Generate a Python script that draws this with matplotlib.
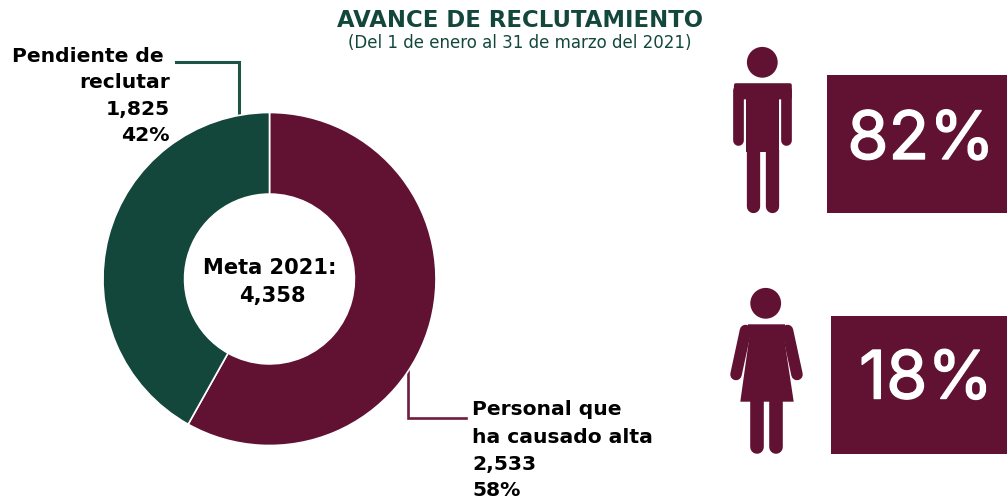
import matplotlib
matplotlib.use("Agg")
import matplotlib.pyplot as plt
import matplotlib.patheffects as pe
from matplotlib.patches import Circle, Polygon, Rectangle, FancyBboxPatch

plt.rcParams["font.family"] = ["DejaVu Sans"]

MAROON = "#611232"
GREEN = "#13473c"

values = [2533, 1825]
colors = [MAROON, GREEN]
meta = 4358
title = "AVANCE DE RECLUTAMIENTO"
subtitle = "(Del 1 de enero al 31 de marzo del 2021)"
label_alta = ["Personal que", "ha causado alta", "2,533", "58%"]
label_pend = ["Pendiente de", "reclutar", "1,825", "42%"]
share_men = "82%"
share_women = "18%"

W, H = 1007, 502
fig = plt.figure(figsize=(W / 100, H / 100), dpi=100)

# overlay in pixel coordinates for the text, leaders and icons
ax = fig.add_axes([0, 0, 1, 1])
ax.set_xlim(0, W)
ax.set_ylim(H - 1, -1)
ax.axis("off")

# donut
cx, cy, R = 269.5, 280, 166.5
pie_ax = fig.add_axes([(cx - R) / W, 1 - (cy + R) / H, 2 * R / W, 2 * R / H])
pie_ax.pie(values, colors=colors, startangle=90, counterclock=False, radius=1,
           wedgeprops=dict(width=0.49, edgecolor="white", linewidth=1.2))
pie_ax.set_xlim(-1, 1)
pie_ax.set_ylim(-1, 1)

ax.text(520, 19.5, title, color=GREEN, fontsize=16.4, fontweight="bold", ha="center", va="center")
ax.text(520, 42, subtitle, color=GREEN, fontsize=12, ha="center", va="center")

ax.text(270, 267, "Meta 2021:", fontsize=15.1, fontweight="bold", ha="center", va="center", color="black")
ax.text(272, 295, f"{meta:,}", fontsize=15.1, fontweight="bold", ha="center", va="center", color="black")

# labels
for txt, y, x in zip(label_pend, [55, 81, 108, 135], [164, 170, 170, 170]):
    ax.text(x, y, txt, fontsize=14.6, fontweight="bold", ha="right", va="center", color="black")
for txt, y in zip(label_alta, [409, 437, 464, 490]):
    ax.text(472, y, txt, fontsize=14.6, fontweight="bold", ha="left", va="center", color="black")

# leaders
ax.plot([176, 239, 239], [62, 62, 116], color="#1c5546", lw=2.2, solid_joinstyle="miter", zorder=1)
ax.plot([408, 408, 466], [368, 418, 418], color="#6f1c3d", lw=1.9, solid_joinstyle="miter")

# man icon
ax.add_patch(Circle((762.3, 62.3), 15.4, color=MAROON, lw=0))
ax.add_patch(FancyBboxPatch((736, 85.3), 53.7, 12, boxstyle="round,pad=0,rounding_size=0.1",
                            fc=MAROON, ec=MAROON, lw=3))
ax.add_patch(Rectangle((746, 90), 32.7, 62, color=MAROON, lw=0))
for x in [738, 786.3]:
    ax.plot([x, x], [90, 139.7], color=MAROON, lw=10.7 * 0.72, solid_capstyle="round")
for x in [752.65, 772]:
    ax.plot([x, x], [150, 206], color=MAROON, lw=13.3 * 0.72, solid_capstyle="round")

# woman icon
ax.add_patch(Circle((765.7, 303.3), 15.4, color=MAROON, lw=0))
ax.add_patch(Polygon([(748, 324.3), (785, 324.3), (786, 337.3), (784, 337.3), (793.7, 401.7),
                      (740.3, 401.7), (749.3, 337.3), (747, 337.3)], closed=True, color=MAROON, lw=0))
ax.plot([745.5, 736], [330.5, 374.5], color=MAROON, lw=11.5 * 0.72, solid_capstyle="round")
ax.plot([787.5, 797], [330.5, 374.5], color=MAROON, lw=11.5 * 0.72, solid_capstyle="round")
for x in [757.2, 776]:
    ax.plot([x, x], [400, 446.5], color=MAROON, lw=13.6 * 0.72, solid_capstyle="round")

# percentage boxes
ax.add_patch(Rectangle((827, 75), 180, 138, color=MAROON, lw=0))
ax.add_patch(Rectangle((831, 316), 176, 138, color=MAROON, lw=0))
thick = [pe.withStroke(linewidth=1.0, foreground="white")]
ax.text(921, 141.5, share_men, color="white", fontsize=48, family="Inter", ha="center", va="center", path_effects=thick)
ax.text(926, 381, share_women, color="white", fontsize=48, family="Inter", ha="center", va="center", path_effects=thick)

fig.savefig("out.png", dpi=100)
